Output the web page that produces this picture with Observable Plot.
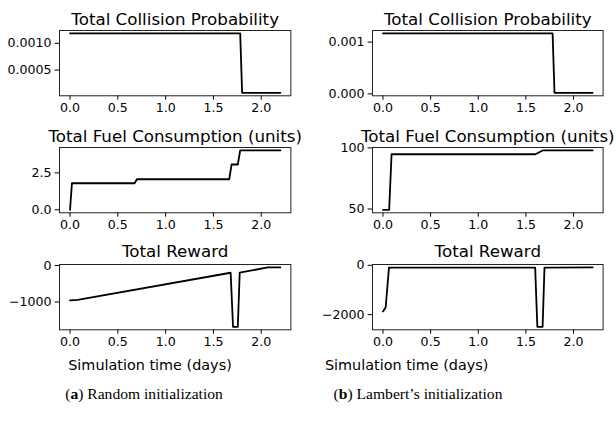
<!DOCTYPE html>
<html><head><meta charset="utf-8">
<script src="https://cdn.jsdelivr.net/npm/d3@7"></script>
<script src="https://cdn.jsdelivr.net/npm/@observablehq/plot@0.6"></script>
<style>
body{margin:0;background:#fff;}
#fig{position:relative;width:616px;height:421px;overflow:hidden;background:#fff;}
#fig svg{position:absolute;}
</style></head><body><div id="fig"></div>
<script>
// ---------- data ----------
const xTicks = [0, 0.5, 1, 1.5, 2];
const panelTitles = ["Total Collision Probability", "Total Fuel Consumption (units)", "Total Reward"];
const xLabel = "Simulation time (days)";
const captionLetters = ["a", "b"];
const captionTexts = ["Random initialization", "Lambert\u2019s initialization"];

// (a) Random initialization
const collisionRandomT = [0, 1.78, 1.80, 2.2];
const collisionRandomV = [0.001185, 0.001185, 0.000074, 0.000074];
const fuelRandomT = [0, 0.02, 0.675, 0.70, 1.665, 1.69, 1.755, 1.78, 2.2];
const fuelRandomV = [0, 1.8, 1.8, 2.07, 2.07, 3.07, 3.07, 4.02, 4.02];
const rewardRandomT = [0, 0.08, 1.68, 1.705, 1.755, 1.775, 2.07, 2.2];
const rewardRandomV = [-955, -945, -200, -1680, -1680, -195, -55, -55];

// (b) Lambert's initialization
const collisionLambertT = [0, 1.78, 1.80, 2.2];
const collisionLambertV = [0.001166, 0.001166, 0.00002, 0.00002];
const fuelLambertT = [0, 0.065, 0.09, 1.6, 1.64, 1.675, 2.2];
const fuelLambertV = [49.3, 49.3, 94.8, 94.8, 96.5, 97.9, 97.9];
const rewardLambertT = [0, 0.028, 0.063, 1.597, 1.62, 1.675, 1.695, 2.2];
const rewardLambertV = [-1870, -1710, -95, -95, -2495, -2495, -95, -88];

// y tick values
const yTicksCollisionRandom = [0.0005, 0.0010];
const yTicksCollisionLambert = [0, 0.001];
const yTicksFuelRandom = [0, 2.5];
const yTicksFuelLambert = [50, 100];
const yTicksRewardRandom = [-1000, 0];
const yTicksRewardLambert = [-2000, 0];

// ---------- layout ----------
const fig = document.getElementById("fig");
const ML = 62, MR = 16, MT = 32, MB = 28;
const colLeft = [59.3, 371.7], colWidth = [231.4, 230.6];
const rowTop = [29.7, 146.6, 263.5], rowHeight = 65.3;
const titleGap = [5.7, 5.6, 7.3];

function padDomain(arr) {
  const [a, b] = d3.extent(arr);
  const m = (b - a) * 0.05;
  return [a - m, b + m];
}

function panel(col, row, t, v, yTicks, yFormat) {
  const data = t.map((x, i) => ({x, y: v[i]}));
  const fw = colWidth[col], fh = rowHeight;
  const svg = Plot.plot({
    width: fw + ML + MR, height: fh + MT + MB,
    marginLeft: ML, marginRight: MR, marginTop: MT, marginBottom: MB,
    style: {fontFamily: "DejaVu Sans", fontSize: "12.6px", color: "#000", background: "transparent", overflow: "visible"},
    x: {domain: padDomain(t), ticks: xTicks, tickFormat: d3.format(".1f"), tickSize: 4.4, tickPadding: 2.9, label: null},
    y: {domain: padDomain(v), ticks: yTicks, tickFormat: yFormat, tickSize: 4.4, tickPadding: 3.5, label: null},
    marks: [
      Plot.line(data, {x: "x", y: "y", stroke: "#000", strokeWidth: 1.8}),
      Plot.frame({stroke: "#222", strokeWidth: 1}),
      Plot.text([panelTitles[row]], {text: d => d, frameAnchor: "top", dy: -titleGap[row], lineAnchor: "bottom", fontSize: 16.7, fill: "#000"})
    ]
  });
  svg.style.left = (colLeft[col] - ML) + "px";
  svg.style.top = (rowTop[row] - MT) + "px";
  fig.appendChild(svg);
}

panel(0, 0, collisionRandomT, collisionRandomV, yTicksCollisionRandom, d3.format(".4f"));
panel(0, 1, fuelRandomT, fuelRandomV, yTicksFuelRandom, d3.format(".1f"));
panel(0, 2, rewardRandomT, rewardRandomV, yTicksRewardRandom, d3.format("d"));
panel(1, 0, collisionLambertT, collisionLambertV, yTicksCollisionLambert, d3.format(".3f"));
panel(1, 1, fuelLambertT, fuelLambertV, yTicksFuelLambert, d3.format("d"));
panel(1, 2, rewardLambertT, rewardLambertV, yTicksRewardLambert, d3.format("d"));

// ---------- x labels and captions ----------
const overlay = d3.create("svg").attr("width", 616).attr("height", 421).style("left", "0px").style("top", "0px");
const xLabelCenters = [150, 406.7];
xLabelCenters.forEach(cx => {
  overlay.append("text").attr("x", cx).attr("y", 369.5).attr("text-anchor", "middle")
    .attr("font-family", "DejaVu Sans").attr("font-size", 14.4).attr("fill", "#000").text(xLabel);
});
const captionCenters = [144, 418];
captionCenters.forEach((cx, i) => {
  const t = overlay.append("text").attr("x", cx).attr("y", 398.5).attr("text-anchor", "middle")
    .attr("font-family", "Liberation Serif").attr("font-size", 15.6).attr("fill", "#000");
  t.append("tspan").text("(");
  t.append("tspan").attr("font-weight", "bold").text(captionLetters[i]);
  t.append("tspan").text(") " + captionTexts[i]);
});
fig.appendChild(overlay.node());
</script></body></html>
